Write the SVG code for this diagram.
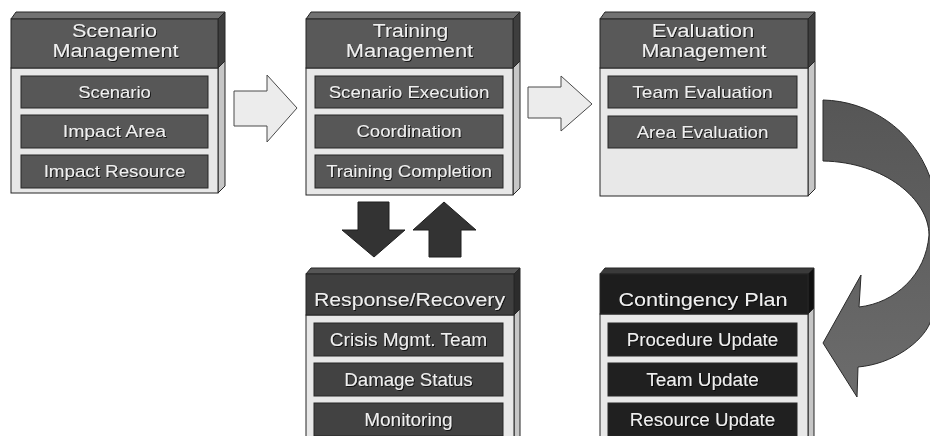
<svg xmlns="http://www.w3.org/2000/svg" width="930" height="436" viewBox="0 0 930 436">
  <defs>
    <filter id="txtShadow" x="-10%" y="-30%" width="120%" height="160%">
      <feDropShadow dx="1" dy="1" stdDeviation="0.4" flood-color="#000" flood-opacity="0.75"/>
    </filter>
    <linearGradient id="curveFill" x1="0" y1="0" x2="0" y2="1">
      <stop offset="0" stop-color="#565656"/>
      <stop offset="1" stop-color="#6c6c6c"/>
    </linearGradient>
    <style>
      .edge { stroke: #262626; stroke-width: 1; }
      .body { fill: #e8e8e8; }
      .bside { fill: #c6c6c6; }
      .slab-a { fill: #727272; }
      .head-a { fill: #595959; }
      .hside-a { fill: #3e3e3e; }
      .item-a { fill: #575757; }
      .slab-b { fill: #565656; }
      .head-b { fill: #3f3f3f; }
      .hside-b { fill: #2c2c2c; }
      .item-b { fill: #424242; }
      .slab-c { fill: #3a3a3a; }
      .head-c { fill: #1d1d1d; }
      .hside-c { fill: #111111; }
      .item-c { fill: #202020; }
      text { font-family: "Liberation Sans", Arial, sans-serif; text-anchor: middle; fill: #efefef; filter: url(#txtShadow); }
      .ht { font-size: 17.5px; }
      .ht2 { font-size: 18.5px; }
      .it { font-size: 17px; }
      .it2 { font-size: 18px; }
      .hollow { fill: #ececec; stroke: #4a4a4a; stroke-width: 1; }
      .solid { fill: #333333; stroke: #1e1e1e; stroke-width: 1; }
      .curve { fill: url(#curveFill); stroke: #2a2a2a; stroke-width: 1; }
    </style>
  </defs>

  <rect width="930" height="436" fill="#ffffff"/>

  <!-- Scenario Management -->
  <g id="scenario-management">
    <polygon class="slab-a edge" points="11,19 16,12 225,12 218,19"/>
    <polygon class="hside-a edge" points="218,19 225,12 225,61 218,68"/>
    <polygon class="bside edge" points="218,68 225,61 225,186 218,193"/>
    <rect class="body edge" x="11" y="68" width="207" height="125"/>
    <rect class="head-a edge" x="11" y="19" width="207" height="49"/>
    <text class="ht" x="114.5" y="37.3" textLength="85" lengthAdjust="spacingAndGlyphs">Scenario</text>
    <text class="ht" x="115.5" y="57.3" textLength="126" lengthAdjust="spacingAndGlyphs">Management</text>
    <rect class="item-a edge" x="21" y="76" width="187" height="32"/>
    <rect class="item-a edge" x="21" y="115" width="187" height="33"/>
    <rect class="item-a edge" x="21" y="155" width="187" height="33"/>
    <text class="it" x="114.5" y="97.5" textLength="72.7" lengthAdjust="spacingAndGlyphs">Scenario</text>
    <text class="it" x="114.5" y="137.3" textLength="103.3" lengthAdjust="spacingAndGlyphs">Impact Area</text>
    <text class="it" x="114.5" y="177.3" textLength="141.7" lengthAdjust="spacingAndGlyphs">Impact Resource</text>
  </g>

  <!-- Training Management -->
  <g id="training-management">
    <polygon class="slab-a edge" points="306,19 311,12 520,12 513,19"/>
    <polygon class="hside-a edge" points="513,19 520,12 520,61 513,68"/>
    <polygon class="bside edge" points="513,68 520,61 520,188 513,195"/>
    <rect class="body edge" x="306" y="68" width="207" height="127"/>
    <rect class="head-a edge" x="306" y="19" width="207" height="49"/>
    <text class="ht" x="410.5" y="37.3" textLength="75.3" lengthAdjust="spacingAndGlyphs">Training</text>
    <text class="ht" x="409.5" y="57.3" textLength="127.3" lengthAdjust="spacingAndGlyphs">Management</text>
    <rect class="item-a edge" x="315" y="76" width="188" height="32"/>
    <rect class="item-a edge" x="315" y="115" width="188" height="33"/>
    <rect class="item-a edge" x="315" y="155" width="188" height="33"/>
    <text class="it" x="409" y="97.5" textLength="160.7" lengthAdjust="spacingAndGlyphs">Scenario Execution</text>
    <text class="it" x="409" y="137.3" textLength="105" lengthAdjust="spacingAndGlyphs">Coordination</text>
    <text class="it" x="409" y="177.3" textLength="165.7" lengthAdjust="spacingAndGlyphs">Training Completion</text>
  </g>

  <!-- Evaluation Management -->
  <g id="evaluation-management">
    <polygon class="slab-a edge" points="600,19 605,12 815,12 808,19"/>
    <polygon class="hside-a edge" points="808,19 815,12 815,61 808,68"/>
    <polygon class="bside edge" points="808,68 815,61 815,189 808,196"/>
    <rect class="body edge" x="600" y="68" width="208" height="128"/>
    <rect class="head-a edge" x="600" y="19" width="208" height="49"/>
    <text class="ht" x="703" y="36.8" textLength="102.7" lengthAdjust="spacingAndGlyphs">Evaluation</text>
    <text class="ht" x="704" y="57.3" textLength="125" lengthAdjust="spacingAndGlyphs">Management</text>
    <rect class="item-a edge" x="608" y="76" width="189" height="32"/>
    <rect class="item-a edge" x="608" y="116" width="189" height="32"/>
    <text class="it" x="702.5" y="97.5" textLength="140.3" lengthAdjust="spacingAndGlyphs">Team Evaluation</text>
    <text class="it" x="702.5" y="137.5" textLength="131.7" lengthAdjust="spacingAndGlyphs">Area Evaluation</text>
  </g>

  <!-- Response/Recovery -->
  <g id="response-recovery">
    <polygon class="slab-b edge" points="306,274 311,268 520,268 514,274"/>
    <polygon class="hside-b edge" points="514,274 520,268 520,309 514,315"/>
    <polygon class="bside edge" points="514,315 520,309 520,446 514,446"/>
    <rect class="body edge" x="306" y="315" width="208" height="131"/>
    <rect class="head-b edge" x="306" y="274" width="208" height="41"/>
    <text class="ht2" x="409.5" y="305.5" textLength="191" lengthAdjust="spacingAndGlyphs">Response/Recovery</text>
    <rect class="item-b edge" x="314" y="323" width="189" height="33"/>
    <rect class="item-b edge" x="314" y="363" width="189" height="33"/>
    <rect class="item-b edge" x="314" y="403" width="189" height="33"/>
    <text class="it2" x="408.5" y="346" textLength="157.3" lengthAdjust="spacingAndGlyphs">Crisis Mgmt. Team</text>
    <text class="it2" x="408.5" y="386" textLength="128.3" lengthAdjust="spacingAndGlyphs">Damage Status</text>
    <text class="it2" x="408.5" y="426" textLength="88.3" lengthAdjust="spacingAndGlyphs">Monitoring</text>
  </g>

  <!-- Contingency Plan -->
  <g id="contingency-plan">
    <polygon class="slab-c edge" points="600,274 605,268 814,268 808,274"/>
    <polygon class="hside-c edge" points="808,274 814,268 814,308 808,314"/>
    <polygon class="bside edge" points="808,314 814,308 814,446 808,446"/>
    <rect class="body edge" x="600" y="314" width="208" height="132"/>
    <rect class="head-c edge" x="600" y="274" width="208" height="40"/>
    <text class="ht2" x="703" y="305.5" textLength="169" lengthAdjust="spacingAndGlyphs">Contingency Plan</text>
    <rect class="item-c edge" x="608" y="323" width="189" height="33"/>
    <rect class="item-c edge" x="608" y="363" width="189" height="33"/>
    <rect class="item-c edge" x="608" y="403" width="189" height="33"/>
    <text class="it2" x="702.5" y="346" textLength="151.3" lengthAdjust="spacingAndGlyphs">Procedure Update</text>
    <text class="it2" x="702.5" y="386" textLength="112.3" lengthAdjust="spacingAndGlyphs">Team Update</text>
    <text class="it2" x="702.5" y="426" textLength="145.3" lengthAdjust="spacingAndGlyphs">Resource Update</text>
  </g>

  <!-- Connectors -->
  <g id="connectors">
    <!-- Scenario -> Training -->
    <polygon class="hollow" points="234,91 267,91 267,75 297,108 267,142 267,126 234,126"/>
    <!-- Training -> Evaluation -->
    <polygon class="hollow" points="528,87 561,87 561,76 592,104 561,131 561,118 528,118"/>
    <!-- Training -> Response/Recovery -->
    <polygon class="solid" points="358,202 389,202 389,230 405,230 374,257 342,230 358,230"/>
    <!-- Response/Recovery -> Training -->
    <polygon class="solid" points="429,257 461,257 461,230 476,230 444,202 413,230 429,230"/>
    <!-- Evaluation -> Contingency Plan -->
    <path class="curve" d="M823,100 C868,101 912,128 930,177 C941,206 942,295 930,323 C922,342 893,364 858,367 L857,397 L823,343 L861,275 L859,307 C895,303 926,275 929,235 C929,200 885,162 823,161 Z"/>
  </g>
</svg>
